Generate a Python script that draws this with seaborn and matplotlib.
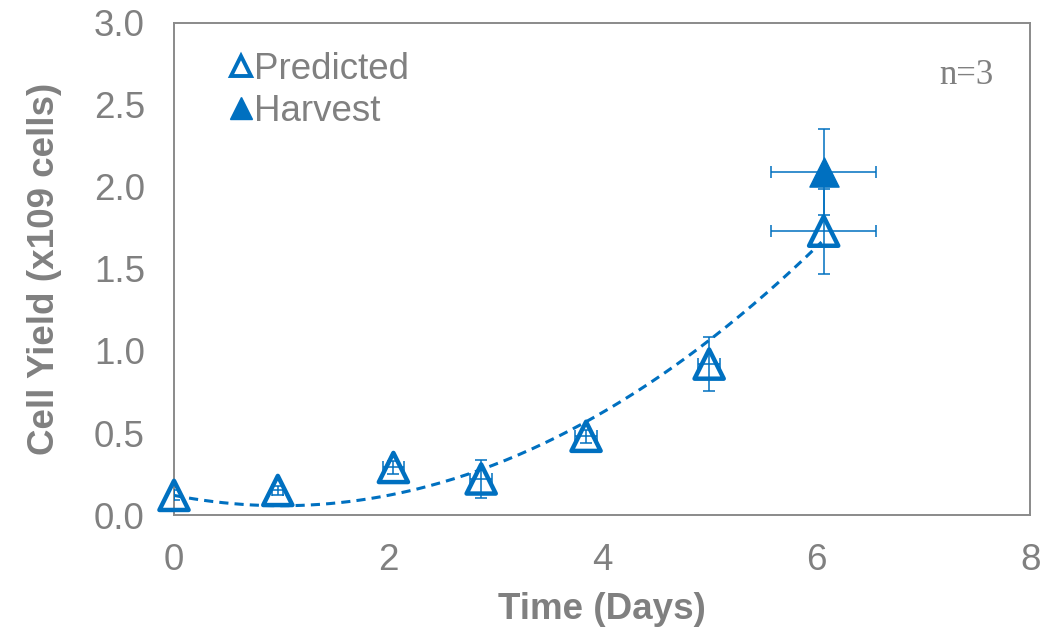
import numpy as np
import pandas as pd
import matplotlib
matplotlib.use("Agg")
import matplotlib.pyplot as plt
from matplotlib.lines import Line2D
import seaborn as sns

# Predicted cell yield over the culture time course
pred_days = [0.0, 0.97, 2.05, 2.87, 3.85, 5.0, 6.07]
pred_yield = [0.12, 0.15, 0.29, 0.22, 0.48, 0.92, 1.73]
pred_yerr = [0.03, 0.03, 0.04, 0.115, 0.04, 0.165, 0.26]
pred_xerr = [0.0, 0.05, 0.1, 0.1, 0.1, 0.1, 0.49]

# Measured yield at harvest
harv_days = [6.07]
harv_yield = [2.09]
harv_yerr = [0.26]
harv_xerr = [0.49]

# Second-order polynomial trend through the predicted yields
trend_coef = [0.063, -0.126, 0.12]
trend_range = [0.0, 6.05]

x_ticks = [0, 2, 4, 6, 8]
y_ticks = [0.0, 0.5, 1.0, 1.5, 2.0, 2.5, 3.0]

BLUE = "#0070C0"
GREY = "#808080"
AXIS = "#8A8A8A"
FS = 26.5

sns.set_theme(style="white")
plt.rcParams["font.family"] = ["Liberation Sans", "DejaVu Sans"]

fig = plt.figure(figsize=(10.61, 6.32), dpi=100)
ax = fig.add_axes([0.164, 0.185, 0.807, 0.779])

pred = pd.DataFrame({"days": pred_days, "yield": pred_yield})
harv = pd.DataFrame({"days": harv_days, "yield": harv_yield})

tx = np.linspace(trend_range[0], trend_range[1], 200)
trend = pd.DataFrame({"days": tx, "yield": np.polyval(trend_coef, tx)})
sns.lineplot(data=trend, x="days", y="yield", ax=ax, color=BLUE, lw=2.2,
             dashes=False, zorder=2).lines[-1].set_dashes((3, 2))

ax.errorbar(pred_days, pred_yield, yerr=pred_yerr, xerr=pred_xerr, fmt="none",
            ecolor=BLUE, elinewidth=1.1, capsize=4.5, capthick=1.1, zorder=3)
ax.errorbar(harv_days, harv_yield, yerr=harv_yerr, xerr=harv_xerr, fmt="none",
            ecolor=BLUE, elinewidth=1.1, capsize=4.5, capthick=1.1, zorder=3)

ms = 21
sns.scatterplot(data=pred, x="days", y="yield", ax=ax, marker="^", s=ms ** 2,
                facecolors="none", edgecolor=BLUE, linewidth=3.2, zorder=4,
                clip_on=False)
sns.scatterplot(data=harv, x="days", y="yield", ax=ax, marker="^", s=ms ** 2,
                color=BLUE, edgecolor=BLUE, linewidth=1, zorder=5, clip_on=False)

ax.set_xlim(0, 8)
ax.set_ylim(0, 3.0)
ax.set_xticks(x_ticks)
ax.set_yticks(y_ticks)
ax.set_xticklabels([str(t) for t in x_ticks])
ax.set_yticklabels([f"{t:.1f}" for t in y_ticks])
ax.tick_params(axis="both", which="both", direction="out", length=7, width=1.2,
               color=AXIS, labelcolor=GREY, labelsize=FS)
ax.tick_params(axis="x", pad=13)
ax.tick_params(axis="y", pad=14)
for side in ["left", "bottom", "top", "right"]:
    ax.spines[side].set_visible(True)
    ax.spines[side].set_color(AXIS)
    ax.spines[side].set_linewidth(1.4)

ax.set_xlabel("Time (Days)", fontsize=FS, fontweight="bold", color=GREY, labelpad=10)
ax.set_ylabel("Cell Yield (x109 cells)", fontsize=FS, fontweight="bold", color=GREY,
              labelpad=23)

handles = [
    Line2D([], [], ls="none", marker="^", ms=14, mfc="none", mec=BLUE, mew=2.8),
    Line2D([], [], ls="none", marker="^", ms=15.5, mfc=BLUE, mec=BLUE, mew=1),
]
leg = ax.legend(handles, ["Predicted", "Harvest"], loc="upper left",
                bbox_to_anchor=(0.04, 0.985), frameon=False, fontsize=FS,
                handlelength=0.6, handletextpad=0.05, labelspacing=0.18,
                borderaxespad=0.2)
for t in leg.get_texts():
    t.set_color(GREY)

ax.text(0.925, 0.893, "n=3", transform=ax.transAxes, ha="center", va="center",
        fontsize=25, color=GREY, family=["Liberation Serif", "DejaVu Serif"])

fig.savefig("out.png", dpi=100)
